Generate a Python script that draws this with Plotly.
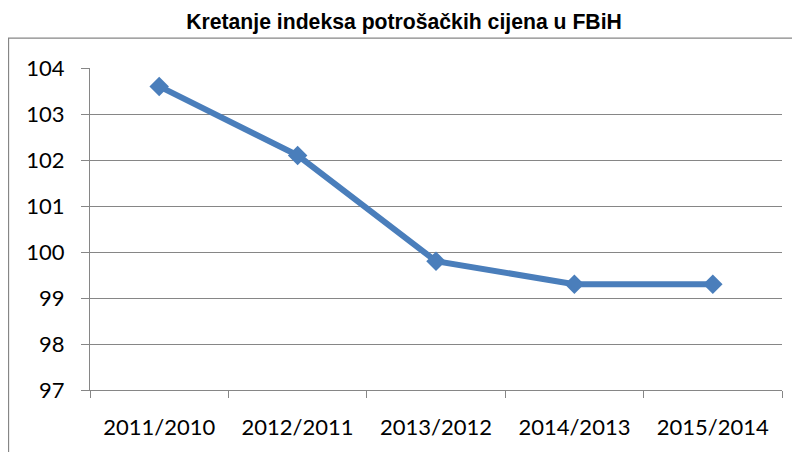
import plotly.graph_objects as go

categories = ["2011/2010", "2012/2011", "2013/2012", "2014/2013", "2015/2014"]
values = [103.6, 102.1, 99.8, 99.3, 99.3]
y_ticks = [97, 98, 99, 100, 101, 102, 103, 104]

# page body has an 8px margin, so the figure is shrunk/shifted accordingly
W, H = 792, 444
L, T, PW, PH = 82, 60, 692, 324

fig = go.Figure()
fig.add_trace(go.Scatter(
    x=categories, y=values, mode="lines+markers",
    line=dict(color="#4a7ebb", width=6),
    marker=dict(symbol="diamond", size=15, color="#4a7ebb"),
    showlegend=False,
))

fig.update_layout(
    width=W, height=H,
    margin=dict(l=L, r=W - L - PW, t=T, b=H - T - PH),
    paper_bgcolor="white", plot_bgcolor="white",
    title=dict(text="<b>Kretanje indeksa potrošačkih cijena u FBiH</b>",
               x=0.5, xanchor="center", y=1 - 14 / H, yanchor="middle",
               font=dict(family="Liberation Sans, Arial", size=21.2, color="black")),
    xaxis=dict(type="category", range=[-0.5, 4.5], tickson="boundaries",
               showgrid=False, showline=True, linecolor="#868686", linewidth=1,
               ticks="outside", ticklen=7, tickcolor="#868686",
               ticklabelstandoff=18,
               tickfont=dict(family="Lato, Carlito, Calibri", size=22, color="black")),
    yaxis=dict(range=[97, 104], tickvals=y_ticks, showgrid=True,
               gridcolor="#868686", gridwidth=1.2, zeroline=False,
               showline=True, linecolor="#868686", linewidth=1.2,
               ticks="outside", ticklen=8, tickcolor="#868686",
               ticklabelstandoff=12,
               tickfont=dict(family="Lato, Carlito, Calibri", size=22, color="black")),
    shapes=[dict(type="rect", xref="paper", yref="paper",
                 x0=(0.5 - L) / PW, x1=1.2, y0=-0.5, y1=(T + PH - 30) / PH,
                 line=dict(color="#868686", width=1.3), fillcolor="rgba(0,0,0,0)",
                 layer="below")],
)

fig.write_html("out.html")
